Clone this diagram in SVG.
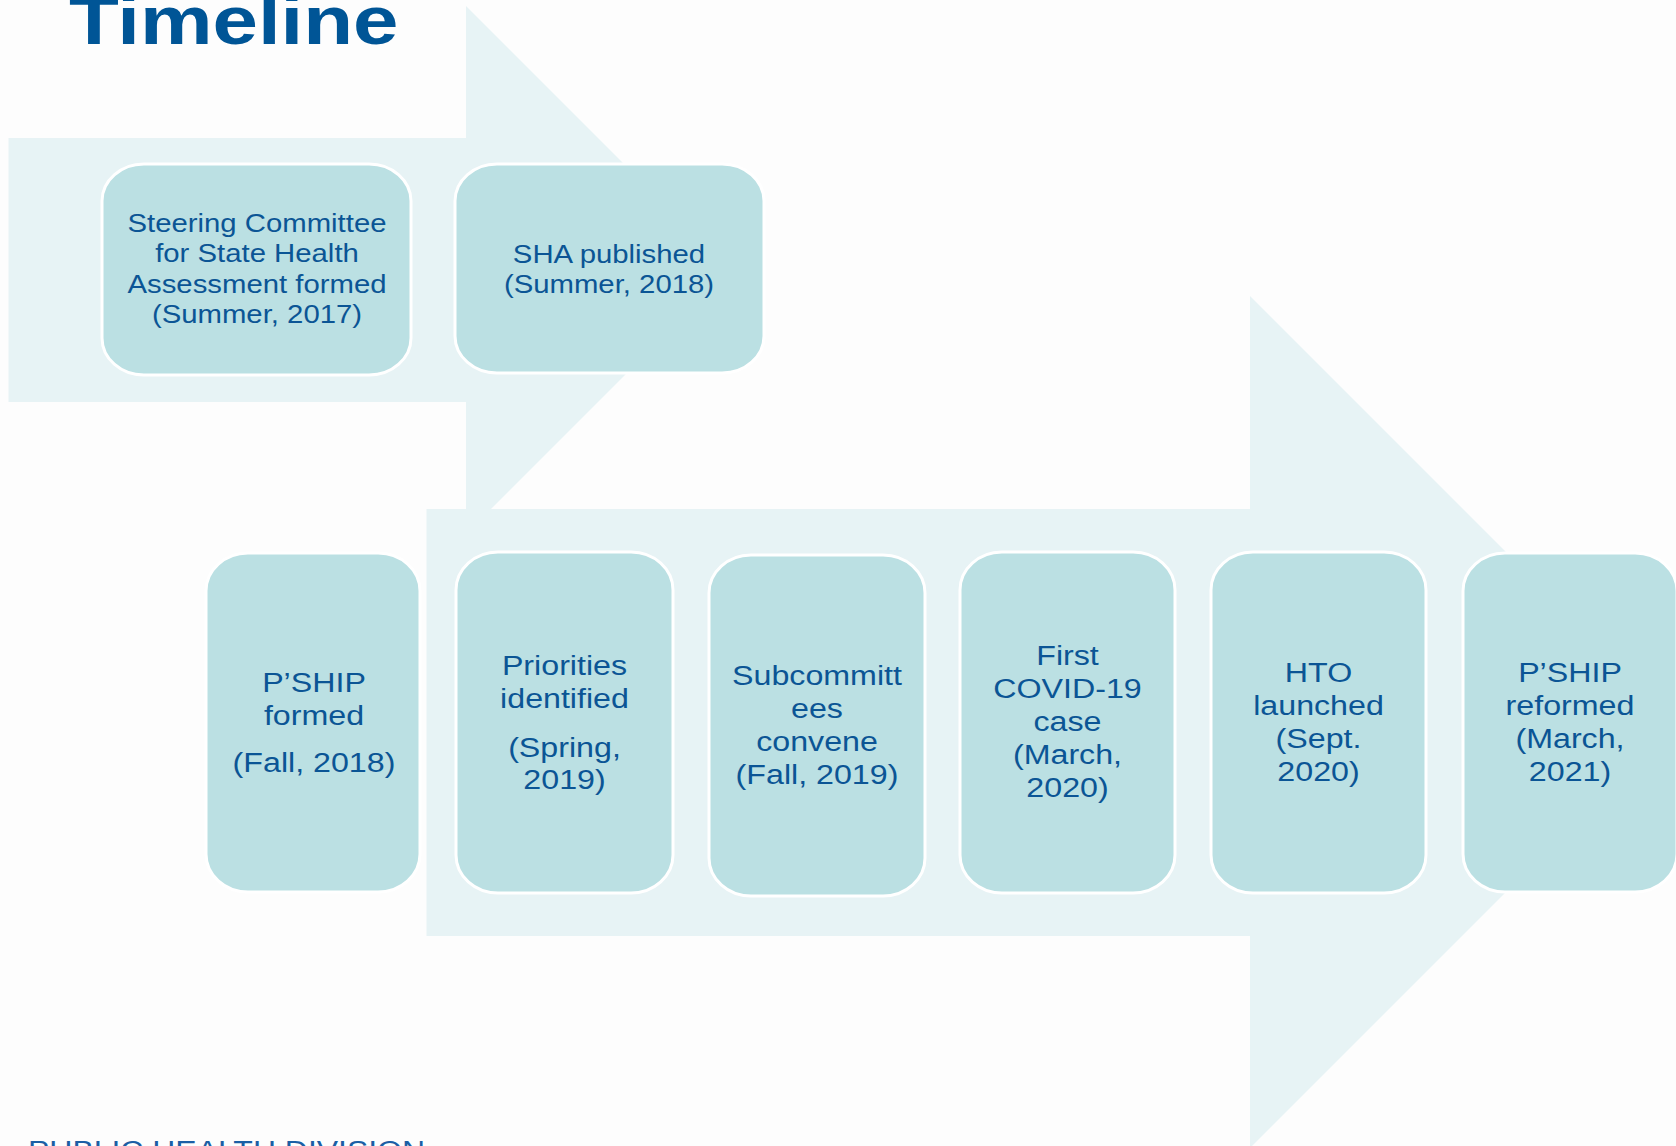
<svg xmlns="http://www.w3.org/2000/svg" width="1676" height="1146" viewBox="0 0 1676 1146">
  <style>
    .bg { fill: #FDFDFD; }
    .arrow { fill: #E7F3F5; }
    .box { fill: #BBE0E3; stroke: #FFFFFF; stroke-width: 3; }
    .t { font-family: "Liberation Sans", Arial, sans-serif; fill: #0B5595; text-anchor: middle; }
    .ts { font-size: 25.5px; }
    .tb { font-size: 28px; }
    .title { font-family: "Liberation Sans", Arial, sans-serif; font-weight: bold; font-size: 68px; fill: #005596; }
    .footer { font-family: "Liberation Sans", Arial, sans-serif; font-size: 27.8px; fill: #1B5FA5; }
  </style>
  <rect class="bg" x="0" y="0" width="1676" height="1146"/>

  <g id="arrows">
    <polygon class="arrow" points="8.5,138 466,138 466,6 730,270 466,534 466,402 8.5,402"/>
    <polygon class="arrow" points="426.5,509 1250,509 1250,296 1676,722 1250,1148 1250,936 426.5,936"/>
  </g>

  <text class="title" transform="matrix(1.2 0 0 1 69 0)" x="0" y="44">Timeline</text>

  <g id="node-steering">
    <rect class="box" x="102" y="164" width="309" height="211" rx="42" ry="37"/>
    <text class="t ts" transform="matrix(1.15 0 0 1 257 0)"><tspan x="0" y="232">Steering Committee</tspan><tspan x="0" y="262.3">for State Health</tspan><tspan x="0" y="292.6">Assessment formed</tspan><tspan x="0" y="322.9">(Summer, 2017)</tspan></text>
  </g>

  <g id="node-sha">
    <rect class="box" x="455" y="164" width="309" height="209" rx="42" ry="37"/>
    <text class="t ts" transform="matrix(1.15 0 0 1 609 0)"><tspan x="0" y="262.7">SHA published</tspan><tspan x="0" y="293.2">(Summer, 2018)</tspan></text>
  </g>

  <g id="node-pship-formed">
    <rect class="box" x="206" y="553" width="214" height="339" rx="42" ry="38"/>
    <text class="t tb" transform="matrix(1.15 0 0 1 314 0)"><tspan x="0" y="692">P’SHIP</tspan><tspan x="0" y="725">formed</tspan><tspan x="0" y="772">(Fall, 2018)</tspan></text>
  </g>

  <g id="node-priorities">
    <rect class="box" x="456" y="552" width="217" height="341" rx="42" ry="38"/>
    <text class="t tb" transform="matrix(1.15 0 0 1 564.5 0)"><tspan x="0" y="675">Priorities</tspan><tspan x="0" y="708">identified</tspan><tspan x="0" y="757">(Spring,</tspan><tspan x="0" y="789">2019)</tspan></text>
  </g>

  <g id="node-subcommittees">
    <rect class="box" x="709" y="555" width="216" height="341" rx="42" ry="38"/>
    <text class="t tb" transform="matrix(1.15 0 0 1 817 0)"><tspan x="0" y="685">Subcommitt</tspan><tspan x="0" y="718">ees</tspan><tspan x="0" y="751">convene</tspan><tspan x="0" y="784">(Fall, 2019)</tspan></text>
  </g>

  <g id="node-covid">
    <rect class="box" x="960" y="552" width="215" height="341" rx="42" ry="38"/>
    <text class="t tb" transform="matrix(1.15 0 0 1 1067.5 0)"><tspan x="0" y="665">First</tspan><tspan x="0" y="698">COVID-19</tspan><tspan x="0" y="731">case</tspan><tspan x="0" y="764">(March,</tspan><tspan x="0" y="797">2020)</tspan></text>
  </g>

  <g id="node-hto">
    <rect class="box" x="1211" y="552" width="215" height="341" rx="42" ry="38"/>
    <text class="t tb" transform="matrix(1.15 0 0 1 1318.5 0)"><tspan x="0" y="682">HTO</tspan><tspan x="0" y="715">launched</tspan><tspan x="0" y="748">(Sept.</tspan><tspan x="0" y="781">2020)</tspan></text>
  </g>

  <g id="node-pship-reformed">
    <rect class="box" x="1463" y="553" width="214" height="339" rx="42" ry="38"/>
    <text class="t tb" transform="matrix(1.15 0 0 1 1570 0)"><tspan x="0" y="682">P’SHIP</tspan><tspan x="0" y="715">reformed</tspan><tspan x="0" y="748">(March,</tspan><tspan x="0" y="781">2021)</tspan></text>
  </g>

  <g id="connectors"></g>

  <text class="footer" transform="matrix(1.15 0 0 1 28 0)" x="0" y="1160">PUBLIC HEALTH DIVISION</text>
</svg>
